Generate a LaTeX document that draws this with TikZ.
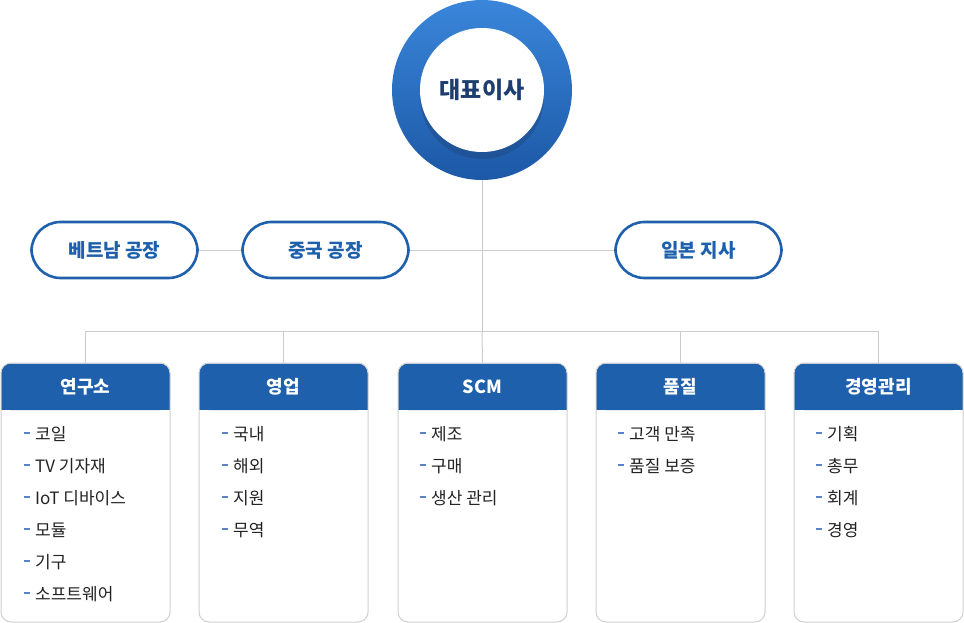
\documentclass[tikz,border=0pt]{standalone}
\usepackage{fontspec}
\setmainfont{Noto Sans CJK KR}
\usetikzlibrary{shadows}
\definecolor{mainblue}{RGB}{30,96,172}
\definecolor{topblue}{RGB}{58,134,218}
\definecolor{botblue}{RGB}{28,88,166}
\definecolor{navy}{RGB}{31,62,112}
\definecolor{conn}{RGB}{204,204,204}
\definecolor{boxline}{RGB}{208,208,208}
\definecolor{dashblue}{RGB}{90,130,200}
\definecolor{itemtxt}{RGB}{34,34,34}
\tikzset{
  connector/.style={draw=conn, line width=1pt},
  pill/.style={draw=mainblue, line width=2.6pt, rounded corners=29pt, minimum width=166pt, minimum height=56pt, fill=white, text=mainblue, font=\fontsize{19}{22}\selectfont\bfseries},
  deptbox/.style={draw=boxline, line width=1pt, rounded corners=10pt, minimum width=169pt, minimum height=259pt},
  hdrtext/.style={text=white, font=\fontsize{18}{21}\selectfont\bfseries},
  item/.style={anchor=west, text=itemtxt, font=\fontsize{17}{20}\selectfont, inner sep=0pt},
  dashmark/.style={draw=dashblue, line width=1.3pt},
}
\begin{document}
\begin{tikzpicture}[x=1pt,y=-1pt]
\useasboundingbox (0,0) rectangle (964,623);
% junctions
\coordinate (jmid) at (482,331);
\coordinate (j1) at (85.5,331);
\coordinate (j2) at (283.5,331);
\coordinate (j4) at (680.5,331);
\coordinate (j5) at (878.5,331);
% CEO circle
\node[circle, minimum size=180pt, inner sep=0pt, top color=topblue, bottom color=botblue] (ceo) at (482,90) {};
\node[circle, minimum size=124pt, inner sep=0pt, fill=white, drop shadow={shadow xshift=0pt, shadow yshift=-7pt, opacity=0.35, fill=navy}] (ceoin) at (482,90) {};
\node[text=navy, font=\fontsize{23}{26}\selectfont\bfseries] (ceotxt) at (482,90) {대표이사};
% pills
\node[pill] (vn) at (114.5,250) {베트남 공장};
\node[pill] (cn) at (325.5,250) {중국 공장};
\node[pill] (jp) at (698.5,250) {일본 지사};
% dept boxes
\foreach \n/\cx in {d1/85.5, d2/283.5, d3/482.5, d4/680.5, d5/878.5}{
  \fill[mainblue, rounded corners=10pt] (\cx-84.5,363.5) rectangle (\cx+84.5,410);
  \fill[mainblue] (\cx-84.5,390) rectangle (\cx+84.5,410);
  \node[deptbox] (\n) at (\cx,492.5) {};
}
\node[hdrtext] (h1) at (85.5,386.5) {연구소};
\node[hdrtext] (h2) at (283.5,386.5) {영업};
\node[hdrtext] (h3) at (482.5,386.5) {SCM};
\node[hdrtext] (h4) at (680.5,386.5) {품질};
\node[hdrtext] (h5) at (878.5,386.5) {경영관리};
% connector lines
\draw[connector] (ceo.south) -- (jmid);
\draw[connector] (vn.east) -- (cn.west);
\draw[connector] (cn.east) -- (jp.west);
\draw[connector] (j1) -- (j5);
\draw[connector] (j1) -- (d1.north);
\draw[connector] (j2) -- (d2.north);
\draw[connector] (jmid) -- (d3.north);
\draw[connector] (j4) -- (d4.north);
\draw[connector] (j5) -- (d5.north);
% items
\foreach \cx/\list in {1/{코일,TV 기자재,IoT 디바이스,모듈,기구,소프트웨어}, 199/{국내,해외,지원,무역}, 397/{제조,구매,생산 관리}, 595/{고객 만족,품질 보증}, 793/{기획,총무,회계,경영}}{
  \foreach \t [count=\i] in \list {
    \draw[dashmark] (\cx+22.5,401+\i*32) -- (\cx+28.5,401+\i*32);
    \node[item] at (\cx+34,402.5+\i*32) {\t};
  }
}
\end{tikzpicture}
\end{document}
